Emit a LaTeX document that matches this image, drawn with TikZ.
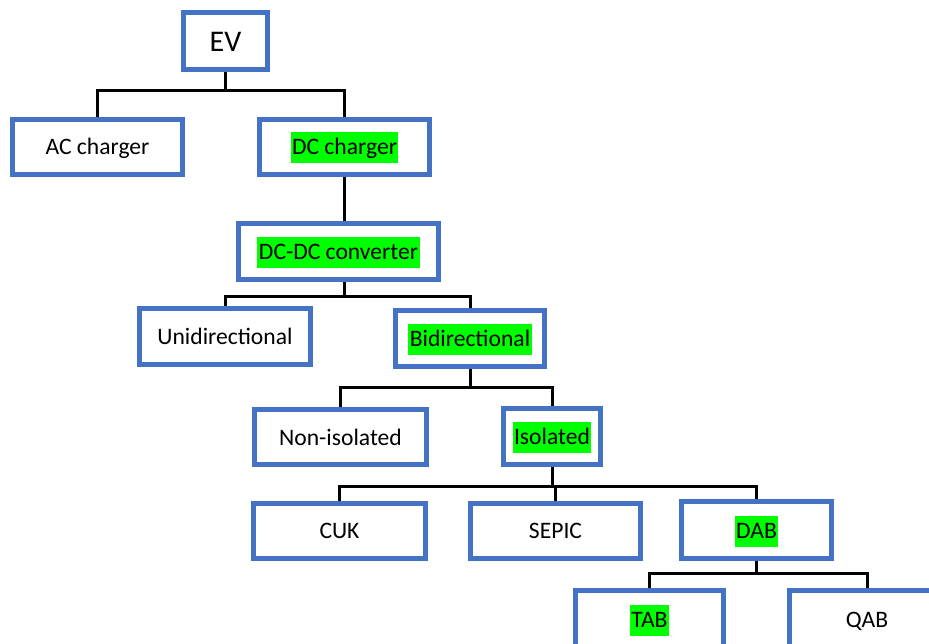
\documentclass[tikz,border=0pt]{standalone}
\usepackage{fontspec}
\setmainfont{Carlito}
\usetikzlibrary{positioning,backgrounds}

\definecolor{boxblue}{HTML}{4472C4}
\definecolor{hlgreen}{HTML}{00FF00}

\newcommand{\hl}[1]{{\setlength{\fboxsep}{1.5pt}\colorbox{hlgreen}{\rule[-7pt]{0pt}{28pt}#1}}}

\tikzset{
    box/.style={draw=boxblue,
        rectangle,
        line width=5pt,
        fill=white,
        inner sep=0pt,
        text height=20pt,
        text depth=4pt,
        font=\fontsize{23.6}{28}\selectfont},
    link/.style={draw=black, line width=3pt}
}

\begin{document}
\begin{tikzpicture}[x=1pt,y=-1pt]
    \useasboundingbox (0,0) rectangle (929,644);
    \clip (0,0) rectangle (929,644);

        \node[box,
        minimum width = 84, 
        minimum height = 57,
        text height=24pt,
        text depth=2pt,
        font=\fontsize{30}{34}\selectfont
        ](ev) at (225.5,41) {EV};

        \node[box,
        minimum width = 170, 
        minimum height = 55
        ](ac) at (97.5,147) {AC charger};
        \node[box,
        minimum width = 170, 
        minimum height = 55
        ](dc) at (344.5,147) {\hl{DC charger}};

        \node[box,
        minimum width = 200, 
        minimum height = 56
        ](dcdc) at (338.5,251.5) {\hl{DC-DC converter}};

        \node[box,
        minimum width = 171, 
        minimum height = 56
        ](uni) at (225,336.5) {Unidirectional};
        \node[box,
        minimum width = 149, 
        minimum height = 56
        ](bi) at (470,338.5) {\hl{Bidirectional}};

        \node[box,
        minimum width = 172, 
        minimum height = 55
        ](noniso) at (340.5,437) {Non-isolated};
        \node[box,
        minimum width = 97, 
        minimum height = 56
        ](iso) at (552,436.5) {\hl{Isolated}};

        \node[box,
        minimum width = 172, 
        minimum height = 55
        ](cuk) at (339.5,530.5) {CUK};
        \node[box,
        minimum width = 170, 
        minimum height = 55
        ](sepic) at (555.5,530.5) {SEPIC};
        \node[box,
        minimum width = 150, 
        minimum height = 57
        ](dab) at (756.5,530) {\hl{DAB}};

        \node[box,
        minimum width = 148, 
        minimum height = 57
        ](tab) at (649.5,619) {\hl{TAB}};
        \node[box,
        minimum width = 155, 
        minimum height = 57
        ](qab) at (867,619) {QAB};

    % tree links, behind the boxes
    \begin{scope}[on background layer]
    \draw[link] (ev.south) -- ++(0,19) -| (ac.north);
    \draw[link] (ev.south) -- ++(0,19) -| (dc.north);
    \draw[link] (dc.south) -- (dc.south |- dcdc.north);
    \draw[link] (dcdc.south -| dc.south) -- ++(0,15) -| (uni.north);
    \draw[link] (dcdc.south -| dc.south) -- ++(0,15) -| (bi.north);
    \draw[link] (bi.south) -- ++(0,18) -| (noniso.north);
    \draw[link] (bi.south) -- ++(0,18) -| (iso.north);
    \draw[link] (iso.south) -- ++(0,19) -| (cuk.north);
    \draw[link] (iso.south) -- ++(0,19) -| (sepic.north);
    \draw[link] (iso.south) -- ++(0,19) -| (dab.north);
    \draw[link] (dab.south) -- ++(0,12) -| (tab.north);
    \draw[link] (dab.south) -- ++(0,12) -| (qab.north);
    \end{scope}
\end{tikzpicture}
\end{document}
